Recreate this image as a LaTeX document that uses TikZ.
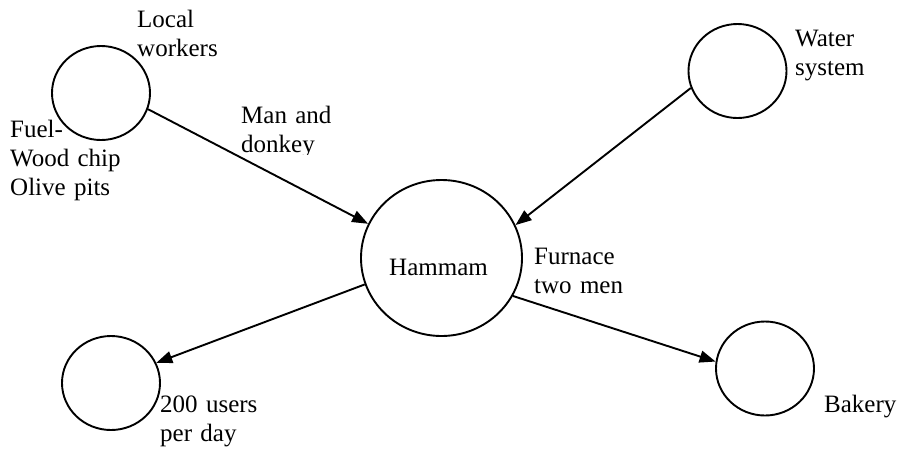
\documentclass[tikz,border=0pt]{standalone}
\usepackage{fontspec}
\setmainfont{Liberation Serif}
\usetikzlibrary{arrows.meta,shapes.geometric}
\tikzset{
  place/.style={draw, ellipse, line width=1.9pt, inner sep=0pt, minimum width=98pt, minimum height=94pt},
  label/.style={anchor=base west, inner sep=0pt, text width=160pt, align=left,
    font=\fontsize{25}{29}\selectfont},
  flow/.style={line width=1.9pt, -{Triangle[length=16pt, width=12pt]}}
}
\begin{document}
\begin{tikzpicture}[x=1pt, y=-1pt]
\useasboundingbox (0,0) rectangle (900,448);
\node[place] (fuel) at (101,93) {};
\node[place] (water) at (737.5,71) {};
\node[place, minimum width=161pt, minimum height=156pt] (hammam) at (441.5,258) {};
\node[place] (users) at (111,383) {};
\node[place] (bakery) at (765,368.5) {};
\node[label] (hamtxt) at (389,275) {Hammam};
\node[label] (local) at (137,27) {Local\\workers};
\node[label] (fueltxt) at (10,137) {Fuel-\\Wood chip\\Olive pits};
\begin{scope}
  \clip (230,95) rectangle (370,154.5);
  \node[label] (man) at (241,123) {Man and\\donkey};
\end{scope}
\node[label] (watertxt) at (795,46) {Water\\system};
\node[label] (furnace) at (534,264) {Furnace\\two men};
\node[label] (userstxt) at (160,412) {200 users\\per day};
\node[label] (bakerytxt) at (824,412) {Bakery};
\draw[flow] (fuel.-19) -- (hammam.155.8);
\draw[flow] (water.200) -- (hammam.24);
\draw[flow] (hammam.199.8) -- (users.24);
\draw[flow] (hammam.-28) -- (bakery.172);
\end{tikzpicture}
\end{document}
